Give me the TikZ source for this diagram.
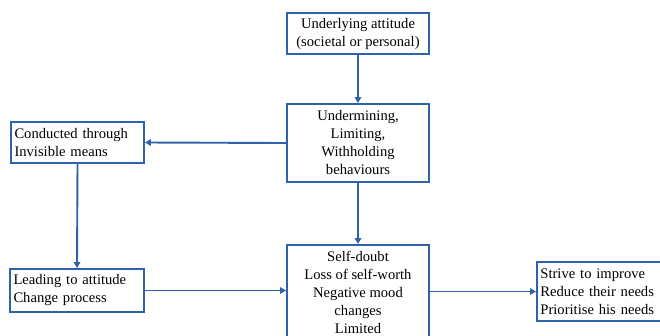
\documentclass[tikz,border=0pt]{standalone}
\usepackage{fontspec}
\setmainfont{Liberation Serif}
\usetikzlibrary{arrows.meta}
\definecolor{bl}{RGB}{46,98,172}
\tikzset{
  box/.style={draw=bl, line width=1.9pt, fill=white, inner sep=0pt, align=center,
    font=\fontsize{14.6}{18}\selectfont},
  lbox/.style={box, align=left},
  conn/.style={draw=bl, line width=1.9pt, -{Triangle[length=6pt,width=6.5pt]}}
}
\begin{document}
\begin{tikzpicture}[x=1pt,y=-1pt]
\useasboundingbox (0,0) rectangle (660,335);
\clip (0,0) rectangle (660,335);
\node[box, minimum width=142pt, minimum height=41pt] (top) at (358,33.5) {Underlying attitude\\(societal or personal)};
\node[box, minimum width=142pt, minimum height=78pt] (mid) at (358,143) {Undermining,\\Limiting,\\Withholding\\behaviours};
\node[box, minimum width=142pt, minimum height=110pt, anchor=north] (bot) at (358,244) {};
\node[align=center, anchor=north, font=\fontsize{14.6}{18}\selectfont] (bottxt) at (358,248) {Self-doubt\\Loss of self-worth\\Negative mood\\changes\\Limited};
\node[lbox, minimum width=133pt, minimum height=41pt, text width=126pt] (c1) at (77.5,142.5) {Conducted through\\Invisible means};
\node[lbox, minimum width=134pt, minimum height=43pt, text width=127pt] (c2) at (77,290.5) {Leading to attitude\\Change process};
\node[lbox, minimum width=140pt, minimum height=59pt, text width=133pt, anchor=west] (r) at (536,291.5) {Strive to improve\\Reduce their needs\\Prioritise his needs};
\draw[conn] (top.south) -- (mid.north);
\draw[conn] (mid.west) -- (c1.east);
\draw[conn] (c1.south) -- (c2.north);
\draw[conn] (mid.south) -- (bot.north);
\draw[conn] (c2.east) -- (bot.west |- c2.east);
\draw[conn] (bot.east |- r.west) -- (r.west);
\end{tikzpicture}
\end{document}
